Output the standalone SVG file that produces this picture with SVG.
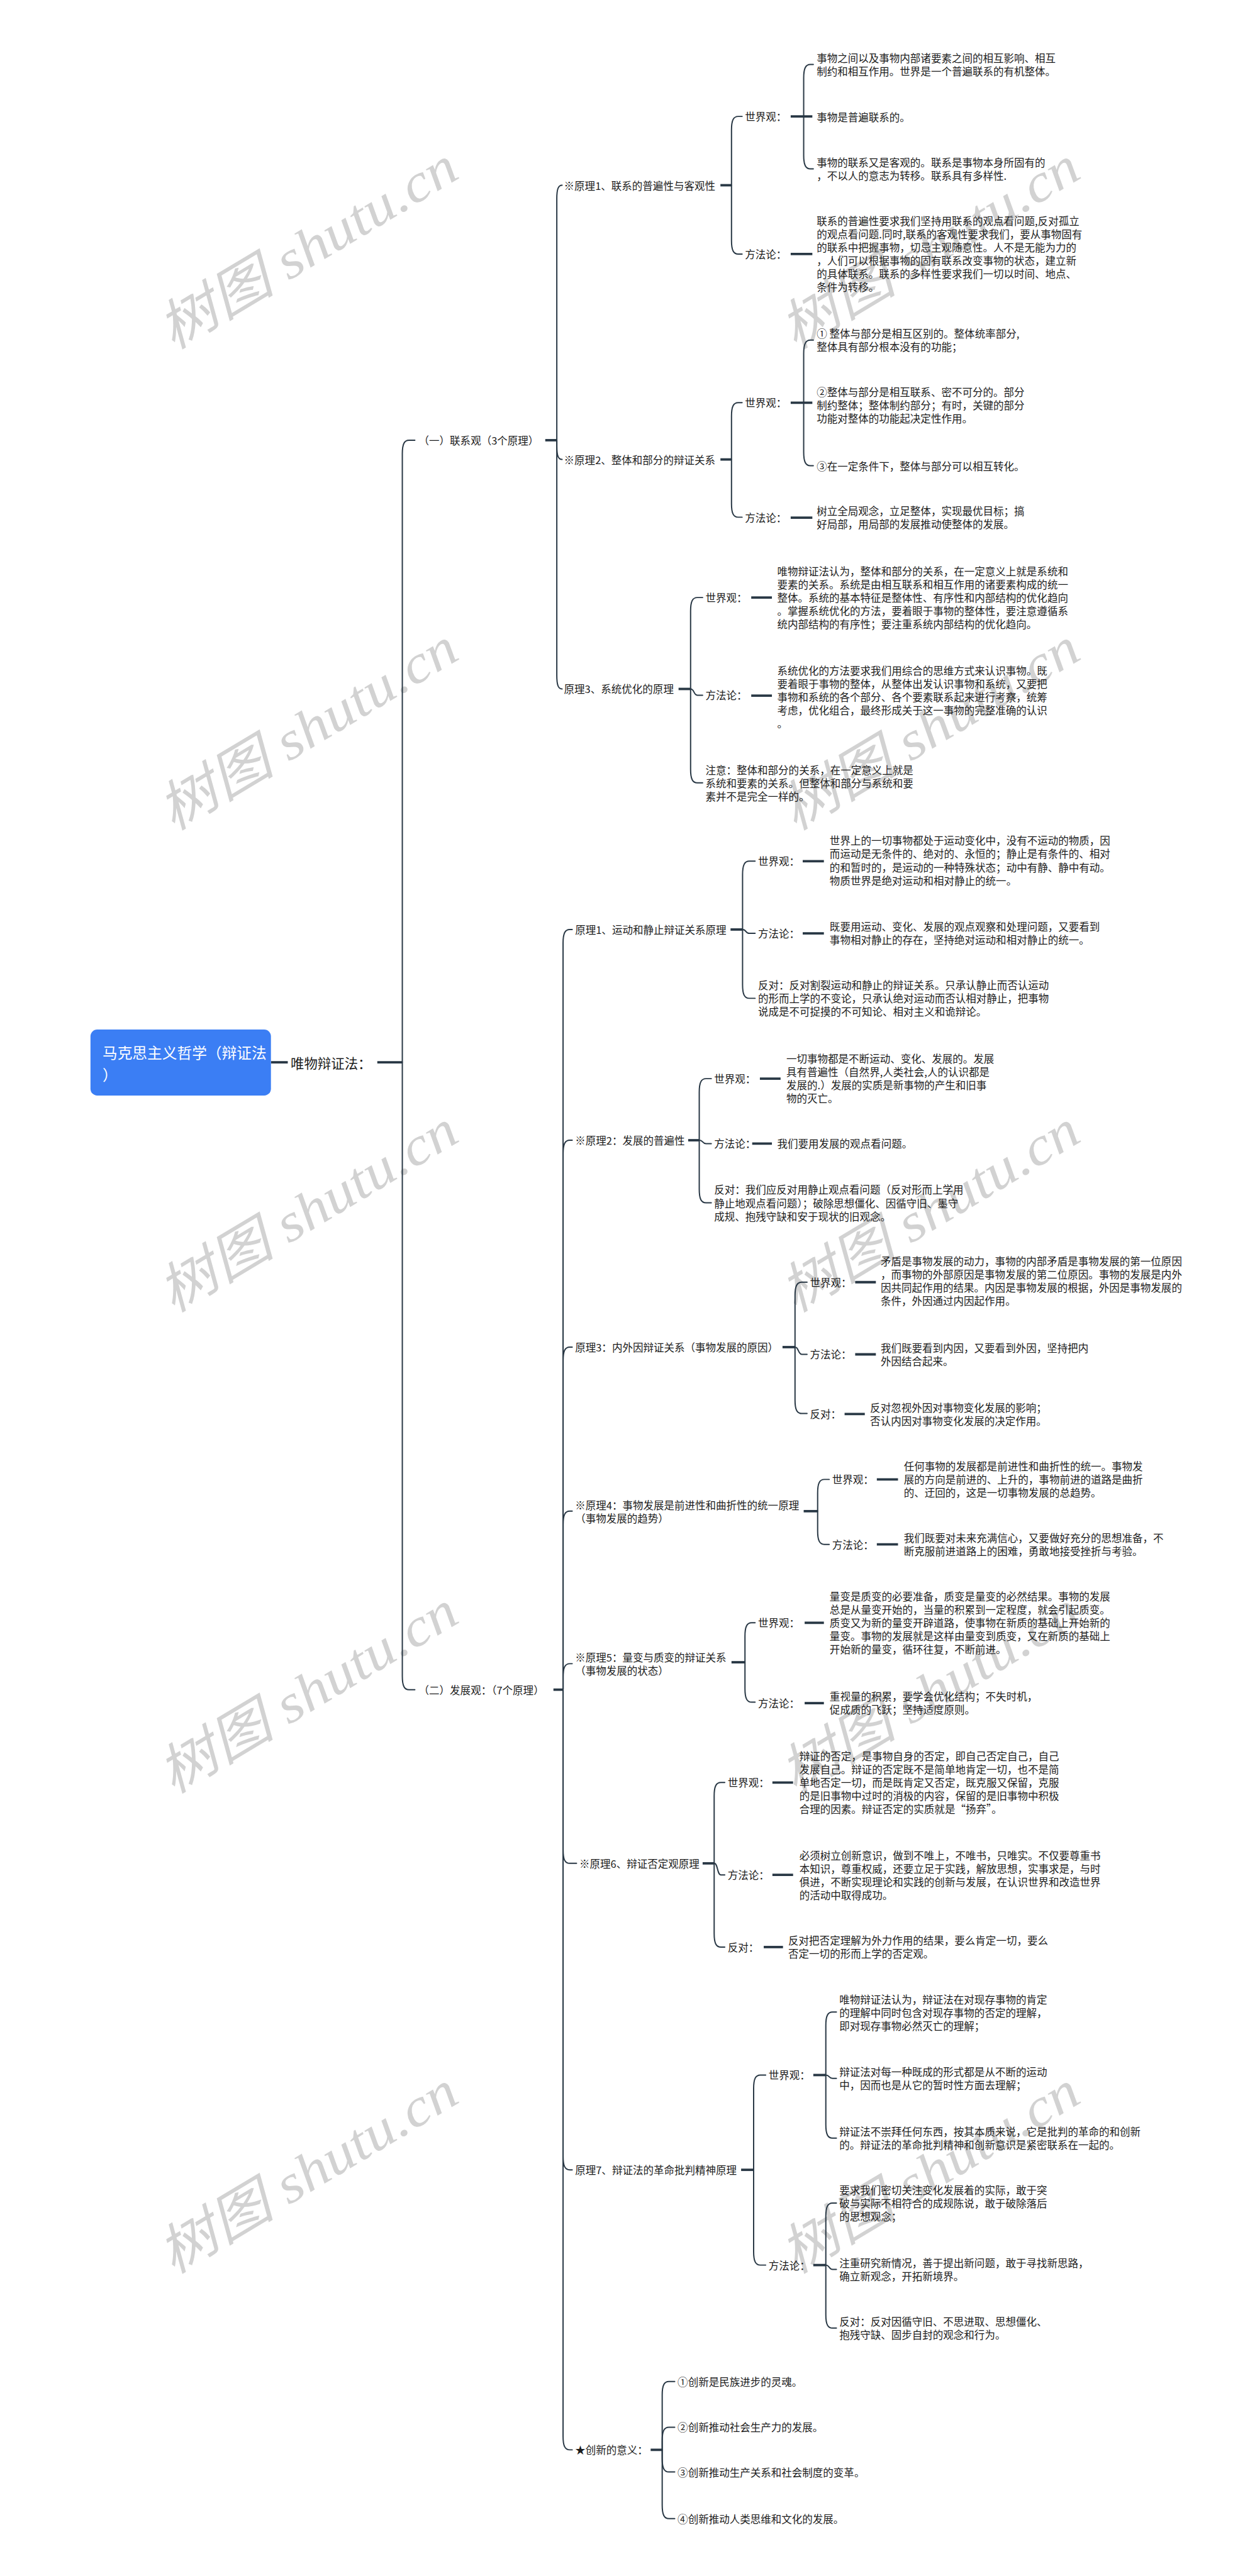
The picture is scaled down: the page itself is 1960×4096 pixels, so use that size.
<svg xmlns="http://www.w3.org/2000/svg" width="1960" height="4096" viewBox="0 0 1960 4096">
<style>
.t{font-family:"Noto Sans CJK SC","Noto Sans",sans-serif;font-size:21.6px;fill:#1c1c1c;dominant-baseline:central}
.l1{font-size:28px}
.root{font-family:"Noto Sans CJK SC","Noto Sans",sans-serif;font-size:31px;fill:#ffffff;dominant-baseline:central}
.wm{font-family:"Liberation Serif","Noto Sans CJK SC",serif;font-style:italic;font-size:112px;fill:#d2d2d2;text-anchor:middle;dominant-baseline:central}
.e{fill:none;stroke:#293845;stroke-width:2.6;stroke-linecap:round}
.d{fill:none;stroke:#293845;stroke-width:5;stroke-linecap:butt}
</style>
<rect x="0" y="0" width="1960" height="4096" fill="#ffffff"/>
<g transform="scale(0.765)">
<g id="watermark">
<text class="wm" transform="translate(640,516) rotate(-31)" textLength="700" lengthAdjust="spacingAndGlyphs">树图 shutu.cn</text>
<text class="wm" transform="translate(1932,516) rotate(-31)" textLength="700" lengthAdjust="spacingAndGlyphs">树图 shutu.cn</text>
<text class="wm" transform="translate(640,1516) rotate(-31)" textLength="700" lengthAdjust="spacingAndGlyphs">树图 shutu.cn</text>
<text class="wm" transform="translate(1932,1516) rotate(-31)" textLength="700" lengthAdjust="spacingAndGlyphs">树图 shutu.cn</text>
<text class="wm" transform="translate(640,2518) rotate(-31)" textLength="700" lengthAdjust="spacingAndGlyphs">树图 shutu.cn</text>
<text class="wm" transform="translate(1932,2518) rotate(-31)" textLength="700" lengthAdjust="spacingAndGlyphs">树图 shutu.cn</text>
<text class="wm" transform="translate(640,3518) rotate(-31)" textLength="700" lengthAdjust="spacingAndGlyphs">树图 shutu.cn</text>
<text class="wm" transform="translate(1932,3518) rotate(-31)" textLength="700" lengthAdjust="spacingAndGlyphs">树图 shutu.cn</text>
<text class="wm" transform="translate(640,4516) rotate(-31)" textLength="700" lengthAdjust="spacingAndGlyphs">树图 shutu.cn</text>
<text class="wm" transform="translate(1932,4516) rotate(-31)" textLength="700" lengthAdjust="spacingAndGlyphs">树图 shutu.cn</text>
</g>

<g id="connectors">
<path class="d" d="M563 2208H598"/>
<path class="d" d="M784 2208H836"/>
<path class="e" d="M836 2208V943C836 923 840 915 850 915H862"/>
<path class="e" d="M836 2208V3484C836 3504 840 3512 850 3512H862"/>
<path class="d" d="M1133 915H1157"/>
<path class="e" d="M1157 915V413C1157 393 1160 385 1168 385"/>
<path class="e" d="M1157 915V927C1157 947 1160 955 1168 955"/>
<path class="e" d="M1157 915V1404C1157 1424 1160 1432 1168 1432"/>
<path class="d" d="M1497 385H1520"/>
<path class="e" d="M1520 385V270C1520 250 1524 242 1534 242H1542"/>
<path class="e" d="M1520 385V500C1520 520 1524 528 1534 528H1542"/>
<path class="d" d="M1643 242H1688"/>
<path class="e" d="M1670 242V162C1670 142 1674 134 1684 134H1690"/>
<path class="e" d="M1670 242V323C1670 343 1674 351 1684 351H1690"/>
<path class="d" d="M1643 528H1688"/>
<path class="d" d="M1497 955H1520"/>
<path class="e" d="M1520 955V865C1520 845 1524 837 1534 837H1542"/>
<path class="e" d="M1520 955V1047C1520 1067 1524 1075 1534 1075H1542"/>
<path class="d" d="M1643 837H1688"/>
<path class="e" d="M1670 837V735C1670 715 1674 707 1684 707H1690"/>
<path class="e" d="M1670 837V940C1670 960 1674 968 1684 968H1690"/>
<path class="d" d="M1643 1076H1688"/>
<path class="d" d="M1410 1432H1435"/>
<path class="e" d="M1435 1432V1270C1435 1250 1439 1242 1449 1242H1460"/>
<path class="e" d="M1435 1432C1443 1432 1441 1445 1449 1445H1460"/>
<path class="e" d="M1435 1432V1599C1435 1619 1439 1627 1449 1627H1460"/>
<path class="d" d="M1561 1242H1604"/>
<path class="d" d="M1561 1446H1604"/>
<path class="d" d="M1150 3512H1170"/>
<path class="e" d="M1170 3512V1960C1170 1940 1174 1932 1184 1932H1189"/>
<path class="e" d="M1170 3512V2398C1170 2378 1174 2370 1184 2370H1189"/>
<path class="e" d="M1170 3512V2828C1170 2808 1174 2800 1184 2800H1189"/>
<path class="e" d="M1170 3512V3169C1170 3149 1174 3141 1184 3141H1189"/>
<path class="e" d="M1170 3512V3486C1170 3466 1174 3458 1184 3458H1189"/>
<path class="e" d="M1170 3512V3845C1170 3865 1174 3873 1184 3873H1198"/>
<path class="e" d="M1170 3512V4482C1170 4502 1174 4510 1184 4510H1189"/>
<path class="e" d="M1170 3512V5064C1170 5084 1174 5092 1184 5092H1189"/>
<path class="d" d="M1518 1932H1543"/>
<path class="e" d="M1543 1932V1818C1543 1798 1547 1790 1557 1790H1569"/>
<path class="e" d="M1543 1932C1551 1932 1549 1940 1557 1940H1569"/>
<path class="e" d="M1543 1932V2047C1543 2067 1547 2075 1557 2075H1569"/>
<path class="d" d="M1668 1790H1712"/>
<path class="d" d="M1668 1940H1712"/>
<path class="d" d="M1430 2370H1453"/>
<path class="e" d="M1453 2370V2270C1453 2250 1457 2242 1467 2242H1478"/>
<path class="e" d="M1453 2370C1461 2370 1459 2377 1467 2377H1478"/>
<path class="e" d="M1453 2370V2472C1453 2492 1457 2500 1467 2500H1478"/>
<path class="d" d="M1579 2242H1622"/>
<path class="d" d="M1563 2377H1604"/>
<path class="d" d="M1626 2800H1652"/>
<path class="e" d="M1652 2800V2693C1652 2673 1656 2665 1666 2665H1677"/>
<path class="e" d="M1652 2800C1660 2800 1658 2815 1666 2815H1677"/>
<path class="e" d="M1652 2800V2910C1652 2930 1656 2938 1666 2938H1677"/>
<path class="d" d="M1777 2665H1820"/>
<path class="d" d="M1777 2815H1820"/>
<path class="d" d="M1755 2939H1797"/>
<path class="d" d="M1670 3141H1699"/>
<path class="e" d="M1699 3141V3103C1699 3083 1703 3075 1713 3075H1723"/>
<path class="e" d="M1699 3141V3182C1699 3202 1703 3210 1713 3210H1723"/>
<path class="d" d="M1822 3075H1866"/>
<path class="d" d="M1822 3210H1866"/>
<path class="d" d="M1520 3455H1548"/>
<path class="e" d="M1548 3455V3401C1548 3381 1552 3373 1562 3373H1569"/>
<path class="e" d="M1548 3455V3510C1548 3530 1552 3538 1562 3538H1569"/>
<path class="d" d="M1672 3373H1712"/>
<path class="d" d="M1672 3540H1712"/>
<path class="d" d="M1460 3873H1484"/>
<path class="e" d="M1484 3873V3733C1484 3713 1488 3705 1498 3705H1506"/>
<path class="e" d="M1484 3873C1492 3873 1490 3897 1498 3897H1506"/>
<path class="e" d="M1484 3873V4019C1484 4039 1488 4047 1498 4047H1506"/>
<path class="d" d="M1605 3705H1648"/>
<path class="d" d="M1605 3897H1648"/>
<path class="d" d="M1587 4047H1627"/>
<path class="d" d="M1540 4510H1566"/>
<path class="e" d="M1566 4510V4341C1566 4321 1570 4313 1580 4313H1591"/>
<path class="e" d="M1566 4510V4680C1566 4700 1570 4708 1580 4708H1591"/>
<path class="d" d="M1690 4313H1716"/>
<path class="e" d="M1716 4313V4210C1716 4190 1720 4182 1730 4182H1738"/>
<path class="e" d="M1716 4313C1724 4313 1722 4320 1730 4320H1738"/>
<path class="e" d="M1716 4313V4416C1716 4436 1720 4444 1730 4444H1738"/>
<path class="d" d="M1690 4708H1716"/>
<path class="e" d="M1716 4708V4607C1716 4587 1720 4579 1730 4579H1738"/>
<path class="e" d="M1716 4708C1724 4708 1722 4717 1730 4717H1738"/>
<path class="e" d="M1716 4708V4811C1716 4831 1720 4839 1730 4839H1738"/>
<path class="d" d="M1352 5092H1376"/>
<path class="e" d="M1376 5092V4978C1376 4958 1380 4950 1390 4950H1402"/>
<path class="e" d="M1376 5092V5073C1376 5053 1380 5045 1390 5045H1402"/>
<path class="e" d="M1376 5092V5110C1376 5130 1380 5138 1390 5138H1402"/>
<path class="e" d="M1376 5092V5207C1376 5227 1380 5235 1390 5235H1402"/>
</g>

<g id="root">
<rect x="188" y="2140" width="375" height="137" rx="14" fill="#3b7ef4"/>
<text class="root" x="213" y="2186">马克思主义哲学（辩证法<tspan x="213" dy="46">）</tspan></text>
</g>
<g id="n-wuwu"><text class="t l1" x="604" y="2208">唯物辩证法：</text></g>

<g id="n-1"><text class="t" x="870" y="915">（一）联系观（3个原理）</text></g>
<g id="n-1-1"><text class="t" x="1172" y="385">※原理1、联系的普遍性与客观性</text></g>
<g id="n-1-1-s"><text class="t" x="1548" y="242">世界观：</text></g>
<g id="n-1-1-s-a"><text class="t" x="1697" y="120">事物之间以及事物内部诸要素之间的相互影响、相互<tspan x="1697" dy="27.5">制约和相互作用。世界是一个普遍联系的有机整体。</tspan></text></g>
<g id="n-1-1-s-b"><text class="t" x="1697" y="243">事物是普遍联系的。</text></g>
<g id="n-1-1-s-c"><text class="t" x="1697" y="337">事物的联系又是客观的。联系是事物本身所固有的<tspan x="1697" dy="27.5">，不以人的意志为转移。联系具有多样性.</tspan></text></g>
<g id="n-1-1-f"><text class="t" x="1548" y="528">方法论：</text></g>
<g id="n-1-1-f-a"><text class="t" x="1697" y="459">联系的普遍性要求我们坚持用联系的观点看问题,反对孤立<tspan x="1697" dy="27.5">的观点看问题.同时,联系的客观性要求我们，要从事物固有</tspan><tspan x="1697" dy="27.5">的联系中把握事物，切忌主观随意性。人不是无能为力的</tspan><tspan x="1697" dy="27.5">，人们可以根据事物的固有联系改变事物的状态，建立新</tspan><tspan x="1697" dy="27.5">的具体联系。联系的多样性要求我们一切以时间、地点、</tspan><tspan x="1697" dy="27.5">条件为转移。</tspan></text></g>

<g id="n-1-2"><text class="t" x="1172" y="955">※原理2、整体和部分的辩证关系</text></g>
<g id="n-1-2-s"><text class="t" x="1548" y="837">世界观：</text></g>
<g id="n-1-2-s-a"><text class="t" x="1697" y="693">① 整体与部分是相互区别的。整体统率部分,<tspan x="1697" dy="27.5">整体具有部分根本没有的功能；</tspan></text></g>
<g id="n-1-2-s-b"><text class="t" x="1697" y="814.5">②整体与部分是相互联系、密不可分的。部分<tspan x="1697" dy="27.5">制约整体；整体制约部分；有时，关键的部分</tspan><tspan x="1697" dy="27.5">功能对整体的功能起决定性作用。</tspan></text></g>
<g id="n-1-2-s-c"><text class="t" x="1697" y="968">③在一定条件下，整体与部分可以相互转化。</text></g>
<g id="n-1-2-f"><text class="t" x="1548" y="1076">方法论：</text></g>
<g id="n-1-2-f-a"><text class="t" x="1697" y="1062">树立全局观念，立足整体，实现最优目标；搞<tspan x="1697" dy="27.5">好局部，用局部的发展推动使整体的发展。</tspan></text></g>

<g id="n-1-3"><text class="t" x="1172" y="1432">原理3、系统优化的原理</text></g>
<g id="n-1-3-s"><text class="t" x="1466" y="1242">世界观：</text></g>
<g id="n-1-3-s-a"><text class="t" x="1615" y="1187">唯物辩证法认为，整体和部分的关系，在一定意义上就是系统和<tspan x="1615" dy="27.5">要素的关系。系统是由相互联系和相互作用的诸要素构成的统一</tspan><tspan x="1615" dy="27.5">整体。系统的基本特征是整体性、有序性和内部结构的优化趋向</tspan><tspan x="1615" dy="27.5">。掌握系统优化的方法，要着眼于事物的整体性，要注意遵循系</tspan><tspan x="1615" dy="27.5">统内部结构的有序性；要注重系统内部结构的优化趋向。</tspan></text></g>
<g id="n-1-3-f"><text class="t" x="1466" y="1445">方法论：</text></g>
<g id="n-1-3-f-a"><text class="t" x="1615" y="1393">系统优化的方法要求我们用综合的思维方式来认识事物。既<tspan x="1615" dy="27.5">要着眼于事物的整体，从整体出发认识事物和系统，又要把</tspan><tspan x="1615" dy="27.5">事物和系统的各个部分、各个要素联系起来进行考察，统筹</tspan><tspan x="1615" dy="27.5">考虑，优化组合，最终形成关于这一事物的完整准确的认识</tspan><tspan x="1615" dy="27.5">。</tspan></text></g>
<g id="n-1-3-z"><text class="t" x="1466" y="1599.5">注意：整体和部分的关系，在一定意义上就是<tspan x="1466" dy="27.5">系统和要素的关系。但整体和部分与系统和要</tspan><tspan x="1466" dy="27.5">素并不是完全一样的。</tspan></text></g>

<g id="n-2"><text class="t" x="870" y="3512">（二）发展观：（7个原理）</text></g>
<g id="n-2-1"><text class="t" x="1195" y="1932">原理1、运动和静止辩证关系原理</text></g>
<g id="n-2-1-s"><text class="t" x="1575" y="1790">世界观：</text></g>
<g id="n-2-1-s-a"><text class="t" x="1724" y="1747">世界上的一切事物都处于运动变化中，没有不运动的物质，因<tspan x="1724" dy="27.5">而运动是无条件的、绝对的、永恒的；静止是有条件的、相对</tspan><tspan x="1724" dy="27.5">的和暂时的，是运动的一种特殊状态；动中有静、静中有动。</tspan><tspan x="1724" dy="27.5">物质世界是绝对运动和相对静止的统一。</tspan></text></g>
<g id="n-2-1-f"><text class="t" x="1575" y="1940">方法论：</text></g>
<g id="n-2-1-f-a"><text class="t" x="1724" y="1926">既要用运动、变化、发展的观点观察和处理问题，又要看到<tspan x="1724" dy="27.5">事物相对静止的存在，坚持绝对运动和相对静止的统一。</tspan></text></g>
<g id="n-2-1-o"><text class="t" x="1575" y="2047.5">反对：反对割裂运动和静止的辩证关系。只承认静止而否认运动<tspan x="1575" dy="27.5">的形而上学的不变论，只承认绝对运动而否认相对静止，把事物</tspan><tspan x="1575" dy="27.5">说成是不可捉摸的不可知论、相对主义和诡辩论。</tspan></text></g>

<g id="n-2-2"><text class="t" x="1195" y="2370">※原理2：发展的普遍性</text></g>
<g id="n-2-2-s"><text class="t" x="1484" y="2242">世界观：</text></g>
<g id="n-2-2-s-a"><text class="t" x="1634" y="2200">一切事物都是不断运动、变化、发展的。发展<tspan x="1634" dy="27.5">具有普遍性（自然界,人类社会,人的认识都是</tspan><tspan x="1634" dy="27.5">发展的.）发展的实质是新事物的产生和旧事</tspan><tspan x="1634" dy="27.5">物的灭亡。</tspan></text></g>
<g id="n-2-2-f"><text class="t" x="1484" y="2377">方法论：</text></g>
<g id="n-2-2-f-a"><text class="t" x="1615" y="2377">我们要用发展的观点看问题。</text></g>
<g id="n-2-2-o"><text class="t" x="1484" y="2472.5">反对：我们应反对用静止观点看问题（反对形而上学用<tspan x="1484" dy="27.5">静止地观点看问题）；破除思想僵化、因循守旧、墨守</tspan><tspan x="1484" dy="27.5">成规、抱残守缺和安于现状的旧观念。</tspan></text></g>

<g id="n-2-3"><text class="t" x="1195" y="2800">原理3：内外因辩证关系（事物发展的原因）</text></g>
<g id="n-2-3-s"><text class="t" x="1683" y="2665">世界观：</text></g>
<g id="n-2-3-s-a"><text class="t" x="1830" y="2621">矛盾是事物发展的动力，事物的内部矛盾是事物发展的第一位原因<tspan x="1830" dy="27.5">，而事物的外部原因是事物发展的第二位原因。事物的发展是内外</tspan><tspan x="1830" dy="27.5">因共同起作用的结果。内因是事物发展的根据，外因是事物发展的</tspan><tspan x="1830" dy="27.5">条件，外因通过内因起作用。</tspan></text></g>
<g id="n-2-3-f"><text class="t" x="1683" y="2815">方法论：</text></g>
<g id="n-2-3-f-a"><text class="t" x="1830" y="2801">我们既要看到内因，又要看到外因，坚持把内<tspan x="1830" dy="27.5">外因结合起来。</tspan></text></g>
<g id="n-2-3-o"><text class="t" x="1683" y="2939">反对：</text></g>
<g id="n-2-3-o-a"><text class="t" x="1808" y="2925">反对忽视外因对事物变化发展的影响；<tspan x="1808" dy="27.5">否认内因对事物变化发展的决定作用。</tspan></text></g>

<g id="n-2-4"><text class="t" x="1195" y="3128">※原理4：事物发展是前进性和曲折性的统一原理<tspan x="1195" dy="27.5">（事物发展的趋势）</tspan></text></g>
<g id="n-2-4-s"><text class="t" x="1729" y="3075">世界观：</text></g>
<g id="n-2-4-s-a"><text class="t" x="1878" y="3047.5">任何事物的发展都是前进性和曲折性的统一。事物发<tspan x="1878" dy="27.5">展的方向是前进的、上升的，事物前进的道路是曲折</tspan><tspan x="1878" dy="27.5">的、迂回的，这是一切事物发展的总趋势。</tspan></text></g>
<g id="n-2-4-f"><text class="t" x="1729" y="3210">方法论：</text></g>
<g id="n-2-4-f-a"><text class="t" x="1878" y="3196">我们既要对未来充满信心，又要做好充分的思想准备，不<tspan x="1878" dy="27.5">断克服前进道路上的困难，勇敢地接受挫折与考验。</tspan></text></g>

<g id="n-2-5"><text class="t" x="1195" y="3445">※原理5：量变与质变的辩证关系<tspan x="1195" dy="27.5">（事物发展的状态）</tspan></text></g>
<g id="n-2-5-s"><text class="t" x="1575" y="3373">世界观：</text></g>
<g id="n-2-5-s-a"><text class="t" x="1724" y="3318">量变是质变的必要准备，质变是量变的必然结果。事物的发展<tspan x="1724" dy="27.5">总是从量变开始的，当量的积累到一定程度，就会引起质变。</tspan><tspan x="1724" dy="27.5">质变又为新的量变开辟道路，使事物在新质的基础上开始新的</tspan><tspan x="1724" dy="27.5">量变。事物的发展就是这样由量变到质变，又在新质的基础上</tspan><tspan x="1724" dy="27.5">开始新的量变，循环往复，不断前进。</tspan></text></g>
<g id="n-2-5-f"><text class="t" x="1575" y="3540">方法论：</text></g>
<g id="n-2-5-f-a"><text class="t" x="1724" y="3526">重视量的积累，要学会优化结构；不失时机，<tspan x="1724" dy="27.5">促成质的飞跃；坚持适度原则。</tspan></text></g>

<g id="n-2-6"><text class="t" x="1204" y="3873">※原理6、辩证否定观原理</text></g>
<g id="n-2-6-s"><text class="t" x="1512" y="3705">世界观：</text></g>
<g id="n-2-6-s-a"><text class="t" x="1661" y="3650">辩证的否定，是事物自身的否定，即自己否定自己，自己<tspan x="1661" dy="27.5">发展自己。辩证的否定既不是简单地肯定一切，也不是简</tspan><tspan x="1661" dy="27.5">单地否定一切，而是既肯定又否定，既克服又保留，克服</tspan><tspan x="1661" dy="27.5">的是旧事物中过时的消极的内容，保留的是旧事物中积极</tspan><tspan x="1661" dy="27.5">合理的因素。辩证否定的实质就是“扬弃”。</tspan></text></g>
<g id="n-2-6-f"><text class="t" x="1512" y="3897">方法论：</text></g>
<g id="n-2-6-f-a"><text class="t" x="1661" y="3856">必须树立创新意识，做到不唯上，不唯书，只唯实。不仅要尊重书<tspan x="1661" dy="27.5">本知识，尊重权威，还要立足于实践，解放思想，实事求是，与时</tspan><tspan x="1661" dy="27.5">俱进，不断实现理论和实践的创新与发展，在认识世界和改造世界</tspan><tspan x="1661" dy="27.5">的活动中取得成功。</tspan></text></g>
<g id="n-2-6-o"><text class="t" x="1512" y="4047">反对：</text></g>
<g id="n-2-6-o-a"><text class="t" x="1638" y="4033">反对把否定理解为外力作用的结果，要么肯定一切，要么<tspan x="1638" dy="27.5">否定一切的形而上学的否定观。</tspan></text></g>

<g id="n-2-7"><text class="t" x="1195" y="4510">原理7、辩证法的革命批判精神原理</text></g>
<g id="n-2-7-s"><text class="t" x="1597" y="4313">世界观：</text></g>
<g id="n-2-7-s-a"><text class="t" x="1744" y="4155">唯物辩证法认为，辩证法在对现存事物的肯定<tspan x="1744" dy="27.5">的理解中同时包含对现存事物的否定的理解，</tspan><tspan x="1744" dy="27.5">即对现存事物必然灭亡的理解；</tspan></text></g>
<g id="n-2-7-s-b"><text class="t" x="1744" y="4306">辩证法对每一种既成的形式都是从不断的运动<tspan x="1744" dy="27.5">中，因而也是从它的暂时性方面去理解；</tspan></text></g>
<g id="n-2-7-s-c"><text class="t" x="1744" y="4430">辩证法不崇拜任何东西，按其本质来说，它是批判的革命的和创新<tspan x="1744" dy="27.5">的。辩证法的革命批判精神和创新意识是紧密联系在一起的。</tspan></text></g>
<g id="n-2-7-f"><text class="t" x="1597" y="4708">方法论：</text></g>
<g id="n-2-7-f-a"><text class="t" x="1744" y="4552">要求我们密切关注变化发展着的实际，敢于突<tspan x="1744" dy="27.5">破与实际不相符合的成规陈说，敢于破除落后</tspan><tspan x="1744" dy="27.5">的思想观念；</tspan></text></g>
<g id="n-2-7-f-b"><text class="t" x="1744" y="4703">注重研究新情况，善于提出新问题，敢于寻找新思路，<tspan x="1744" dy="27.5">确立新观念，开拓新境界。</tspan></text></g>
<g id="n-2-7-f-c"><text class="t" x="1744" y="4825">反对：反对因循守旧、不思进取、思想僵化、<tspan x="1744" dy="27.5">抱残守缺、固步自封的观念和行为。</tspan></text></g>

<g id="n-2-8"><text class="t" x="1195" y="5092">★创新的意义：</text></g>
<g id="n-2-8-a"><text class="t" x="1408" y="4950">①创新是民族进步的灵魂。</text></g>
<g id="n-2-8-b"><text class="t" x="1408" y="5045">②创新推动社会生产力的发展。</text></g>
<g id="n-2-8-c"><text class="t" x="1408" y="5138">③创新推动生产关系和社会制度的变革。</text></g>
<g id="n-2-8-d"><text class="t" x="1408" y="5235">④创新推动人类思维和文化的发展。</text></g>
</g>
</svg>
